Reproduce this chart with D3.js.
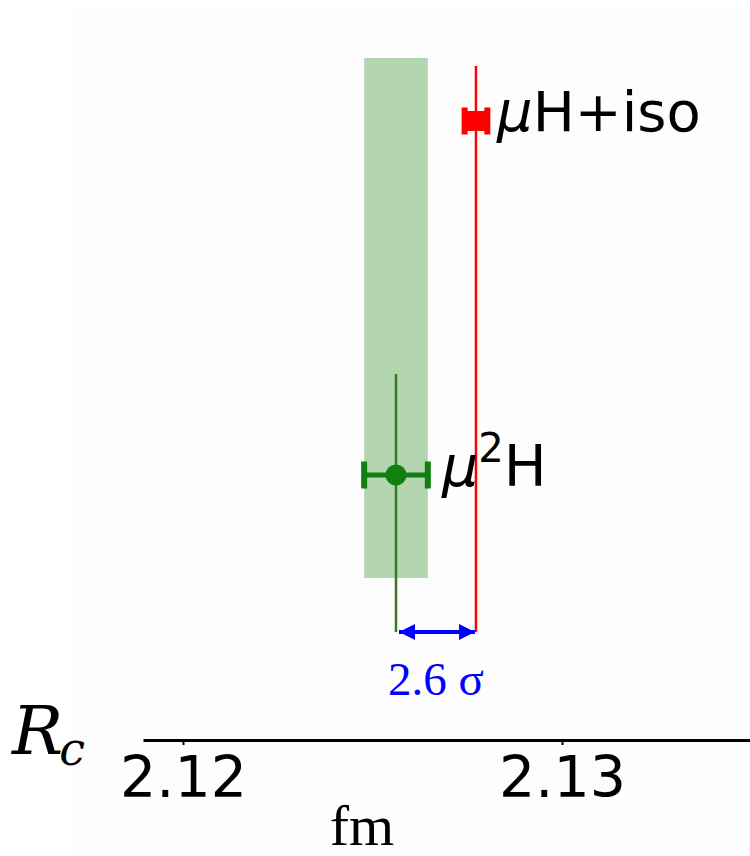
<!DOCTYPE html>
<html>
<head>
<meta charset="utf-8">
<script src="https://cdn.jsdelivr.net/npm/d3@7"></script>
<style>
  body { margin: 0; background: #fff; }
  svg { display: block; }
</style>
</head>
<body>
<div class="chart"></div>
<script>
// measurements (fm)
var labels = ["μH+iso", "μ²H"];
var values = [2.12773, 2.12562];
var errors = [0.0003, 0.00084];
var colors = ["#ff0000", "#108010"];
var tickValues = [2.12, 2.13];
var tension = "2.6 σ";

var width = 750, height = 856;

var svg = d3.select(".chart").append("svg")
    .attr("width", width)
    .attr("height", height);

// faint plot background like the original
svg.append("rect")
    .attr("x", 72).attr("y", 8)
    .attr("width", width - 72).attr("height", height - 8)
    .attr("fill", "#fefdfe");

var x = d3.scaleLinear()
    .domain([2.118945, 2.13496])
    .range([143, 750]);

var y = d3.scalePoint()
    .domain(labels)
    .range([121, 475]);

var arrowY = 632;

// green band = mu2H value +- error
svg.append("rect")
    .attr("x", x(values[1] - errors[1]))
    .attr("y", 58)
    .attr("width", x(values[1] + errors[1]) - x(values[1] - errors[1]))
    .attr("height", 578 - 58)
    .attr("fill", "#b3d6b1");

// red vertical line
svg.append("line")
    .attr("x1", x(values[0])).attr("x2", x(values[0]))
    .attr("y1", 66).attr("y2", arrowY)
    .attr("stroke", "#ff0000")
    .attr("stroke-width", 2.5);

// green vertical line
svg.append("line")
    .attr("x1", x(values[1])).attr("x2", x(values[1]))
    .attr("y1", 374).attr("y2", arrowY)
    .attr("stroke", "#3b7a22")
    .attr("stroke-width", 2.5);

// error bars
var pts = svg.append("g")
    .selectAll("g")
    .data(labels.map((l, i) => ({label: l, v: values[i], e: errors[i], c: colors[i]})))
    .join("g");

pts.append("line")
    .attr("x1", d => x(d.v - d.e)).attr("x2", d => x(d.v + d.e))
    .attr("y1", d => y(d.label)).attr("y2", d => y(d.label))
    .attr("stroke", d => d.c)
    .attr("stroke-width", 5);

pts.selectAll("rect.cap")
    .data(d => [d.v - d.e, d.v + d.e].map(v => ({v: v, d: d})))
    .join("rect")
    .attr("class", "cap")
    .attr("x", c => x(c.v) - 3)
    .attr("y", c => y(c.d.label) - 13.5)
    .attr("width", 6)
    .attr("height", 27)
    .attr("fill", c => c.d.c);

// markers: square for muH+iso, circle for mu2H
pts.filter((d, i) => i === 0).append("rect")
    .attr("x", d => x(d.v) - 9)
    .attr("y", d => y(d.label) - 10)
    .attr("width", 18)
    .attr("height", 20)
    .attr("fill", d => d.c);

pts.filter((d, i) => i === 1).append("circle")
    .attr("cx", d => x(d.v))
    .attr("cy", d => y(d.label))
    .attr("r", 10.5)
    .attr("fill", d => d.c);

// labels
svg.append("text")
    .attr("x", 497).attr("y", y(labels[0]) + 10)
    .attr("font-family", "DejaVu Sans")
    .attr("font-size", 56)
    .attr("fill", "#000")
    .call(t => {
        t.append("tspan").attr("font-style", "italic").text("μ");
        t.append("tspan").text("H+iso");
    });

svg.append("text")
    .attr("x", 442).attr("y", y(labels[1]) + 11)
    .attr("font-family", "DejaVu Sans")
    .attr("font-size", 57)
    .attr("fill", "#000")
    .call(t => {
        t.append("tspan").attr("font-style", "italic").text("μ");
        t.append("tspan").attr("font-size", 40).attr("dy", -24).text("2");
        t.append("tspan").attr("dy", 24).text("H");
    });

// tension arrow
var defs = svg.append("defs");
["start", "end"].forEach(function (k) {
    defs.append("marker")
        .attr("id", "arr-" + k)
        .attr("viewBox", "0 0 10 10")
        .attr("refX", k === "end" ? 10 : 0).attr("refY", 5)
        .attr("markerWidth", 18).attr("markerHeight", 16)
        .attr("markerUnits", "userSpaceOnUse")
        .attr("orient", "auto")
        .append("path")
        .attr("d", k === "end" ? "M0,0L10,5L0,10Z" : "M10,0L0,5L10,10Z")
        .attr("fill", "#0000ff");
});

svg.append("line")
    .attr("x1", x(values[1]) + 3).attr("x2", x(values[0]) - 1)
    .attr("y1", arrowY).attr("y2", arrowY)
    .attr("stroke", "#0000ff")
    .attr("stroke-width", 4)
    .attr("marker-start", "url(#arr-start)")
    .attr("marker-end", "url(#arr-end)");

svg.append("text")
    .attr("x", (x(values[0]) + x(values[1])) / 2)
    .attr("y", 695)
    .attr("text-anchor", "middle")
    .attr("font-family", "Liberation Serif")
    .attr("font-size", 47)
    .attr("fill", "#0000ff")
    .text(tension);

// x axis
var axis = svg.append("g")
    .attr("transform", "translate(0,740)")
    .call(d3.axisBottom(x).tickValues(tickValues).tickSizeInner(5).tickSizeOuter(0).tickPadding(12)
        .tickFormat(d3.format(".2f")));

axis.select(".domain").attr("stroke-width", 3);
axis.selectAll(".tick line").attr("stroke-width", 2);
axis.selectAll(".tick text")
    .attr("font-family", "DejaVu Sans")
    .attr("font-size", 57)
    .attr("dy", "0.71em")
    .attr("fill", "#000");

// R_c
svg.append("text")
    .attr("x", 12).attr("y", 754)
    .attr("font-family", "DejaVu Serif")
    .attr("font-style", "italic")
    .attr("font-size", 68)
    .attr("fill", "#000")
    .call(t => {
        t.append("tspan").text("R");
        t.append("tspan").attr("font-size", 46).attr("dy", 11).attr("dx", -4).text("c");
    });

svg.append("text")
    .attr("x", 362).attr("y", 845)
    .attr("text-anchor", "middle")
    .attr("font-family", "Liberation Serif")
    .attr("font-size", 58)
    .attr("fill", "#000")
    .text("fm");
</script>
</body>
</html>
